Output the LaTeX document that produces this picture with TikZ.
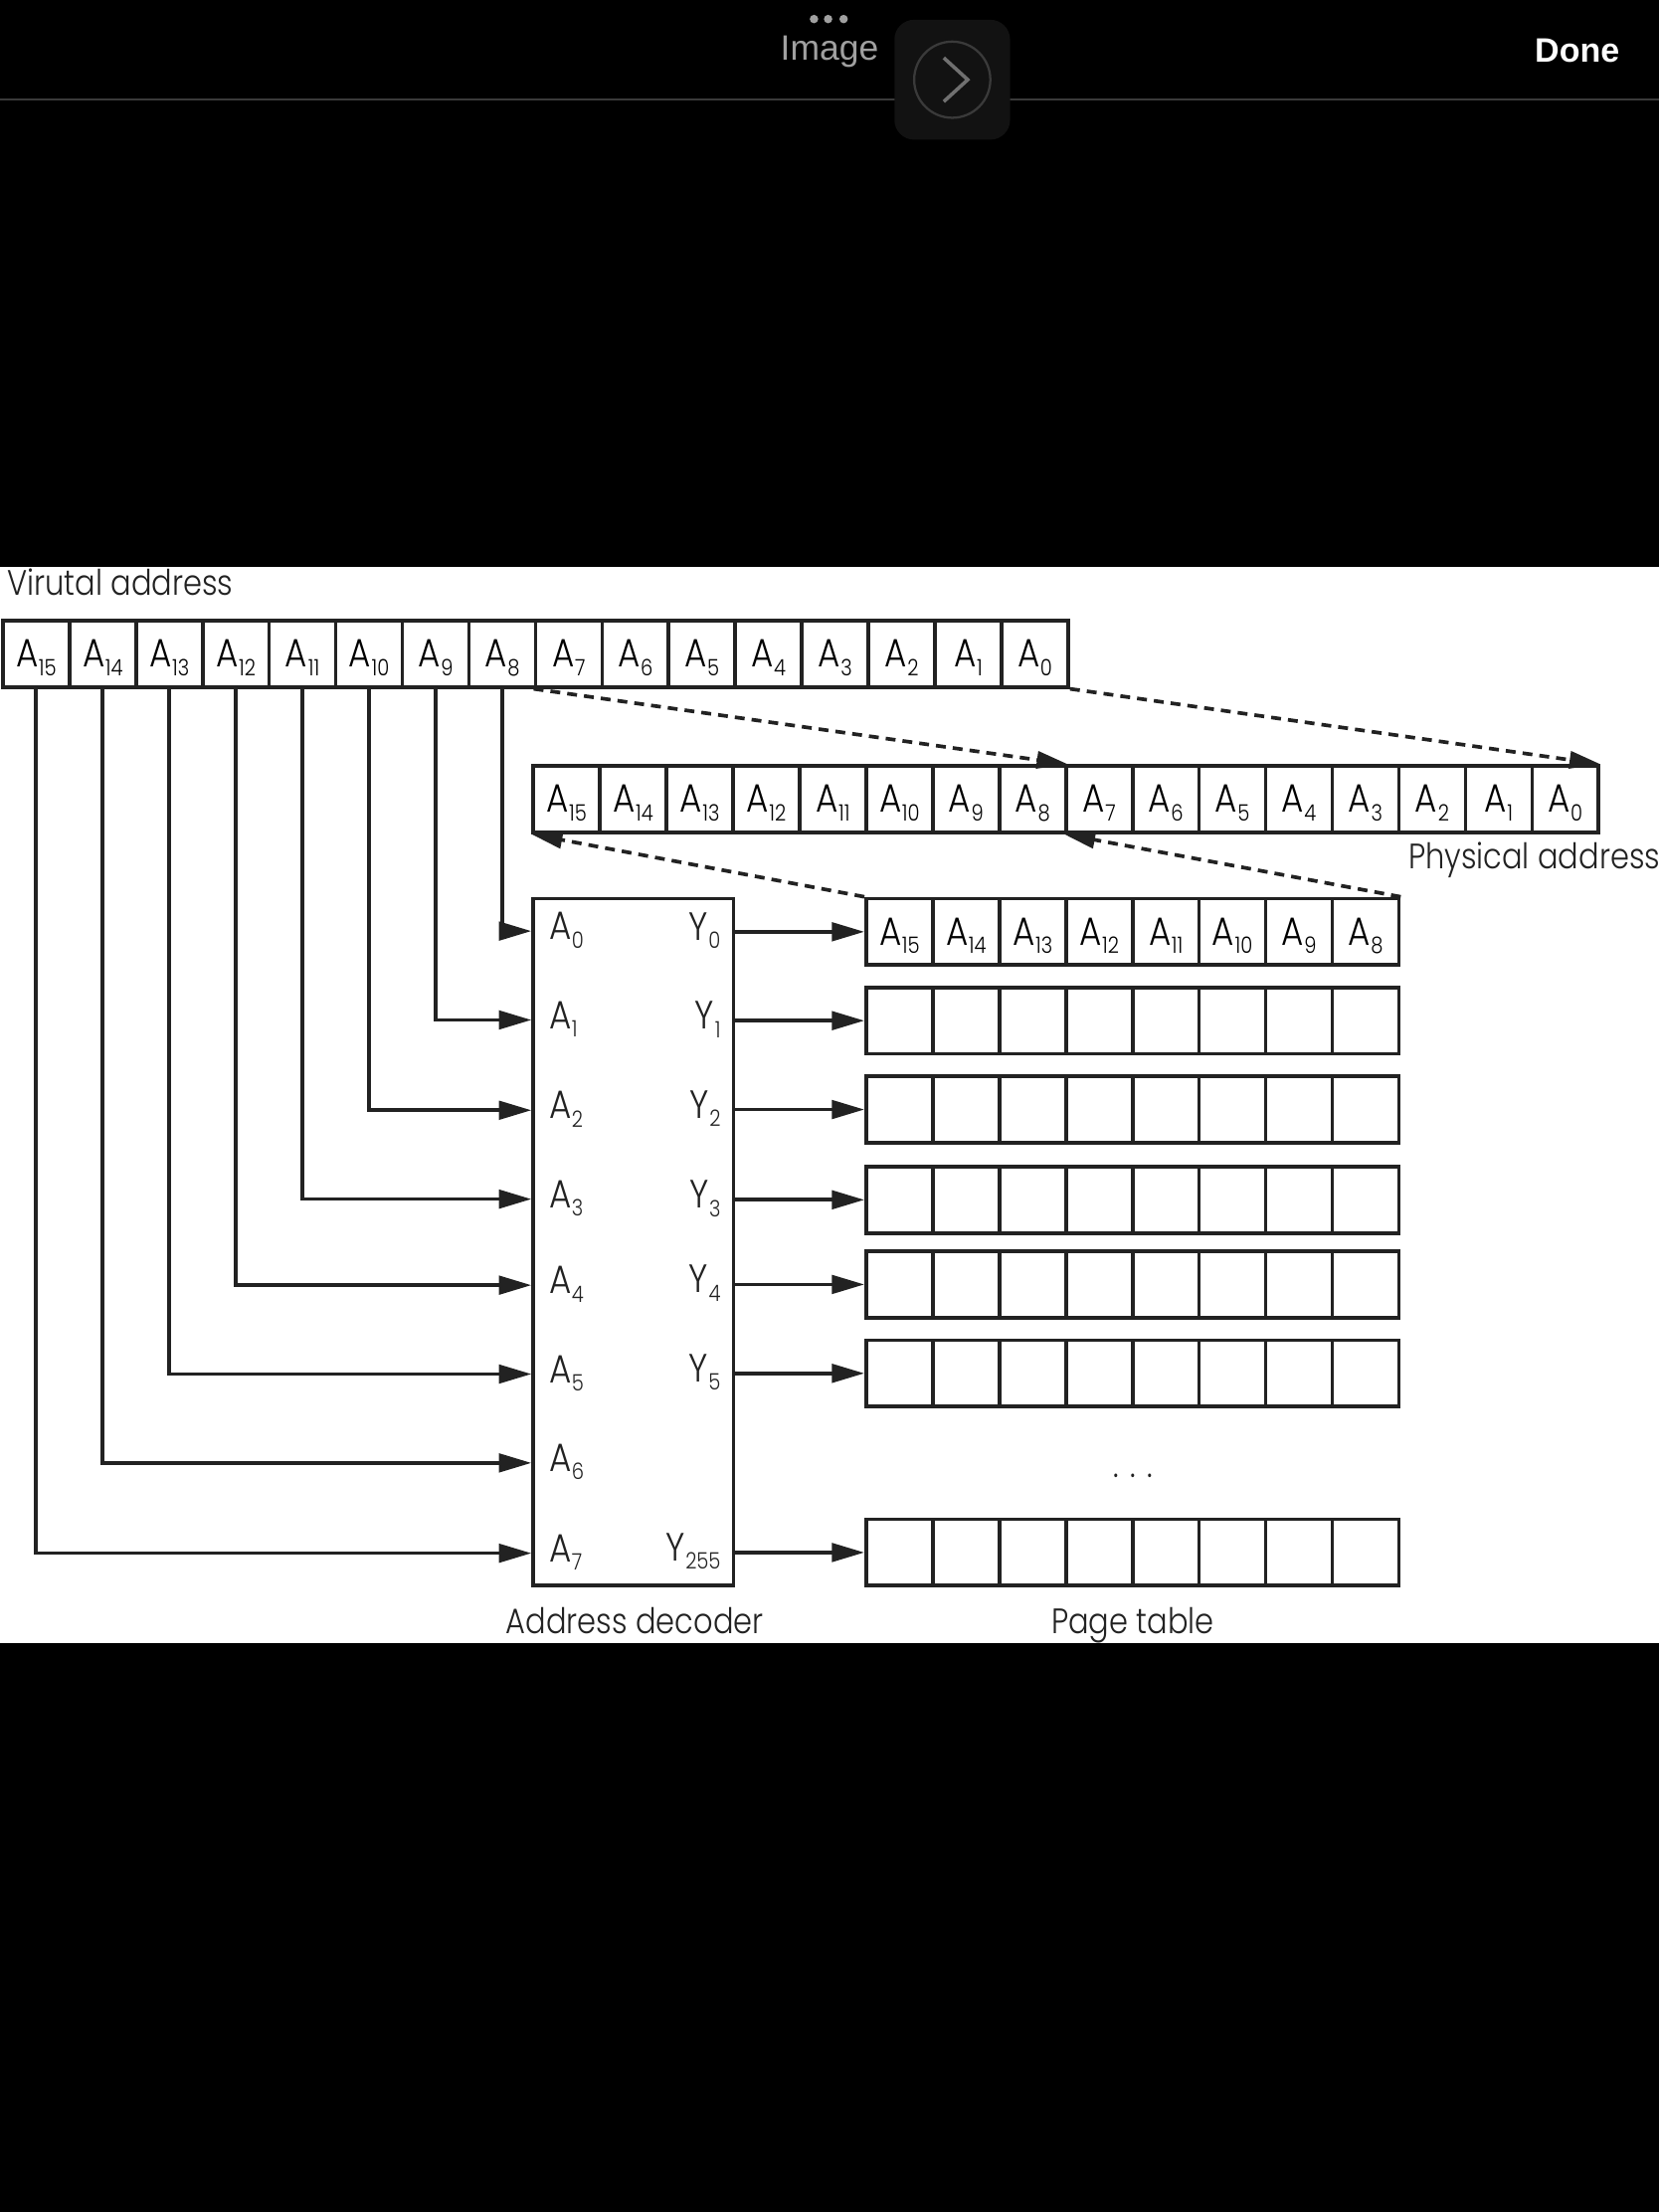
\documentclass[tikz,border=0pt]{standalone}
\usepackage{fontspec}
\IfFontExistsTF{Poppins Light}
  {\setmainfont{Poppins}[UprightFont=* Light,FakeStretch=0.86]}
  {\setmainfont{Poppins}[FakeStretch=0.86]}
\newfontfamily\uifont{Liberation Sans}
\usetikzlibrary{arrows.meta}

\definecolor{uigray}{HTML}{A0A0A0}
\definecolor{btnfill}{HTML}{121212}
\definecolor{btnline}{HTML}{3A3A3A}
\definecolor{ink}{HTML}{222222}

% one address bit, A with its index
\newcommand{\bit}[1]{A\kern0.4pt\raisebox{-6pt}{\fontsize{16}{16}\selectfont #1}}
\newcommand{\ybit}[1]{Y\kern0.4pt\raisebox{-6pt}{\fontsize{16}{16}\selectfont #1}}

\tikzset{
  cell/.style={draw=ink, line width=2.6pt, minimum width=47.2pt, minimum height=47pt,
    inner sep=0pt, text height=19pt, text depth=0pt, font=\fontsize{28}{28}\selectfont},
  lbl/.style={inner sep=0pt, text=ink, font=\fontsize{25}{25}\selectfont},
  pin/.style={lbl, font=\fontsize{28}{28}\selectfont},
  arr/.style={draw=ink, line width=2.6pt, -{Triangle[length=23pt,width=13pt]}},
  dasharr/.style={draw=ink, line width=2.6pt, dash pattern=on 7pt off 5pt,
    -{Triangle[length=22pt,width=12pt]}}
}

\begin{document}
\begin{tikzpicture}[x=1pt, y=-1pt]
    \path[use as bounding box, fill=black] (0,0) rectangle (1176,1568);

    % viewer bar
    \foreach \x in {577,587,598} \fill[uigray] (\x,13.5) circle (3);
    \node[font=\uifont\fontsize{25}{25}\selectfont, text=uigray] (img) at (588,37) {Image};
    \node[font=\uifont\bfseries\fontsize{24}{24}\selectfont, text=white] (done) at (1118,36) {Done};
    \draw[btnline, line width=1pt] (0,70.5) -- (1176,70.5);
    \fill[btnfill, rounded corners=14pt] (634,14) rectangle (716,99);
    \draw[btnline, line width=1.6pt] (675,56.5) circle (27);
    \draw[uigray!70!black, line width=2.5pt] (669,41) -- (686,56.5) -- (669,72);

    \fill[white] (0,402) rectangle (1176,1165);

    % Virtual address
    \node[lbl, anchor=west] (vlabel) at (5,413) {Virutal address};
    \foreach \b [count=\k from 0] in {15,...,0}
        \node[cell] (v\b) at (25.6+47.2*\k,463.5) {\bit{\b}};

    % Physical address
    \foreach \b [count=\k from 0] in {15,...,0}
        \node[cell] (p\b) at (401.6+47.2*\k,566.5) {\bit{\b}};
    \node[lbl, anchor=east] (plabel) at (1177,610) {Physical address};

    % Page table
    \foreach \b [count=\k from 0] in {15,...,8}
        \node[cell] (t0-\k) at (637.6+47.2*\k,660.5) {\bit{\b}};
    \foreach \r/\y in {1/723.5,2/786.5,3/850.5,4/910.5,5/973.5,255/1100.5}
        \foreach \k in {0,...,7}
            \node[cell] (t\r-\k) at (637.6+47.2*\k,\y) {};
    \node[lbl, anchor=base] (dots) at (803,1047) {.\hspace{8pt}.\hspace{8pt}.};
    \node[lbl, anchor=base] (ptlabel) at (803,1158) {Page table};

    % Address decoder
    \node[draw=ink, line width=2.6pt, minimum width=142pt, minimum height=487pt] (dec) at (449,880.5) {};
    \node[lbl, anchor=base] (declabel) at (450,1158) {Address decoder};
    \foreach \j/\b/\y in {0/8/660,1/9/723,2/10/787,3/11/850,4/12/911,5/13/974,6/14/1037,7/15/1101} {
        \node[pin, anchor=base west] (a\j) at (389,\y+6) {\bit{\j}};
        \coordinate (in\j) at (dec.west |- 0,\y);
        \draw[arr] (v\b.south) |- (in\j);
    }
    \foreach \r/\y in {0/660.5,1/723.5,2/786.5,3/850.5,4/910.5,5/973.5,255/1100.5} {
        \node[pin, anchor=base east] (y\r) at (511,\y+6) {\ybit{\r}};
        \draw[arr] (dec.east |- t\r-0.west) -- (t\r-0.west);
    }

    % bit moves
    \draw[dasharr] (v7.south west) -- (p8.north east);
    \draw[dasharr] (v0.south east) -- (p0.north east);
    \draw[dasharr] (t0-0.north west) -- (p15.south west);
    \draw[dasharr] (t0-7.north east) -- (p7.south west);
\end{tikzpicture}
\end{document}
